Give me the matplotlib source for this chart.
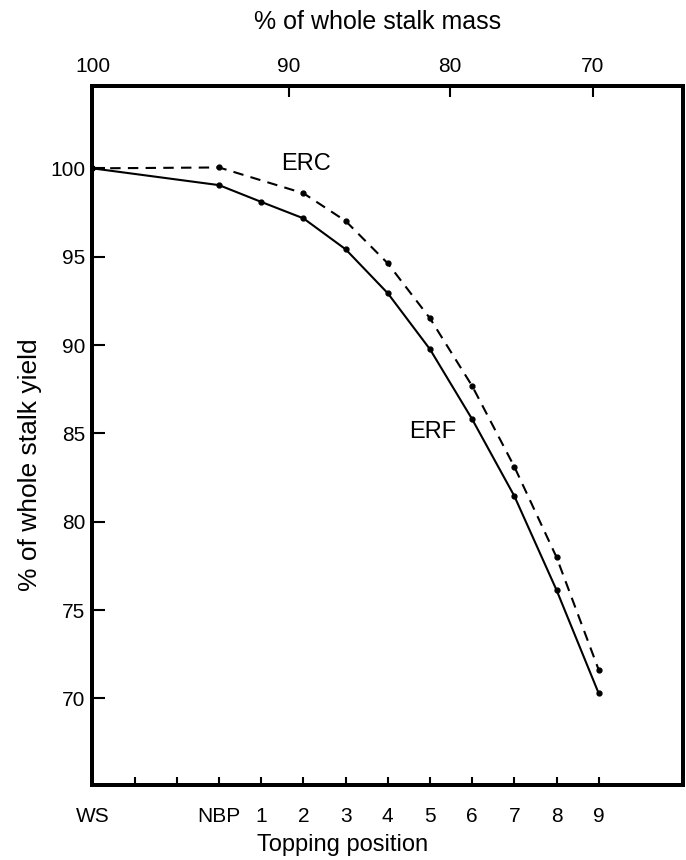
import matplotlib
matplotlib.use('Agg')
import matplotlib.pyplot as plt

# topping positions (evenly spaced along the bottom axis)
positions = [0, 1, 2, 3, 4, 5, 6, 7, 8, 9, 10, 11, 12]
position_labels = ['WS', '', '', 'NBP', '1', '2', '3', '4', '5', '6', '7', '8', '9']

# ERF (solid line) - points at WS, NBP, 1..9
erf_x = [0, 3, 4, 5, 6, 7, 8, 9, 10, 11, 12]
erf_y = [100.0, 99.05, 98.1, 97.17, 95.42, 92.93, 89.76, 85.8, 81.45, 76.13, 70.28]

# ERC (dashed line) - no point at topping position 1
erc_x = [0, 3, 5, 6, 7, 8, 9, 10, 11, 12]
erc_y = [100.0, 100.05, 98.59, 97.02, 94.62, 91.51, 87.68, 83.11, 77.99, 71.61]

# top axis: % of whole stalk mass, placed on the topping position scale
mass_labels = ['100', '90', '80', '70']
mass_pos = [0, 4.66, 8.47, 11.86]

yield_ticks = [70, 75, 80, 85, 90, 95, 100]


def main():
    plt.rcParams['font.family'] = ['Liberation Sans', 'DejaVu Sans']

    fig = plt.figure(figsize=(6.86, 8.6), dpi=100)
    ax = fig.add_axes([0.1348, 0.0872, 0.861, 0.8128])

    ax.plot(erf_x, erf_y, color='black', linewidth=1.5, marker='o', markersize=3.5)
    ax.plot(erc_x, erc_y, color='black', linewidth=1.5, linestyle=(0, (5, 3.5)),
            marker='o', markersize=3.5)

    # curve labels
    ax.text(5.06, 100.25, 'ERC', fontsize=17, ha='center', va='center')
    ax.text(8.06, 85.1, 'ERF', fontsize=17, ha='center', va='center')

    # setting x and y axis range
    ax.set_xlim(0, 14)
    ax.set_ylim(65.1, 104.66)

    ax.set_xticks(positions)
    ax.set_xticklabels(position_labels)
    ax.set_yticks(yield_ticks)
    ax.tick_params(axis='x', direction='in', length=6, width=1.5, labelsize=15, pad=16)
    ax.tick_params(axis='y', direction='in', length=9, width=1.5, labelsize=15, pad=5)

    for s in ax.spines.values():
        s.set_linewidth(2.8)

    # top axis
    ax2 = ax.twiny()
    ax2.set_xlim(ax.get_xlim())
    ax2.set_xticks(mass_pos)
    ax2.set_xticklabels(mass_labels)
    ax2.tick_params(axis='x', direction='in', length=8, width=1.5, labelsize=15, pad=7)
    for s in ax2.spines.values():
        s.set_linewidth(2.8)

    # axis titles
    fig.text(30 / 686, 1 - 465 / 860, '% of whole stalk yield', fontsize=19,
             rotation=90, ha='center', va='center')
    fig.text(0.5, 1 - 845 / 860, 'Topping position', fontsize=17, ha='center', va='center')
    fig.text(0.551, 1 - 22 / 860, '% of whole stalk mass', fontsize=18, ha='center', va='center')

    fig.savefig('out.png', dpi=100)


if __name__ == '__main__':
    main()
